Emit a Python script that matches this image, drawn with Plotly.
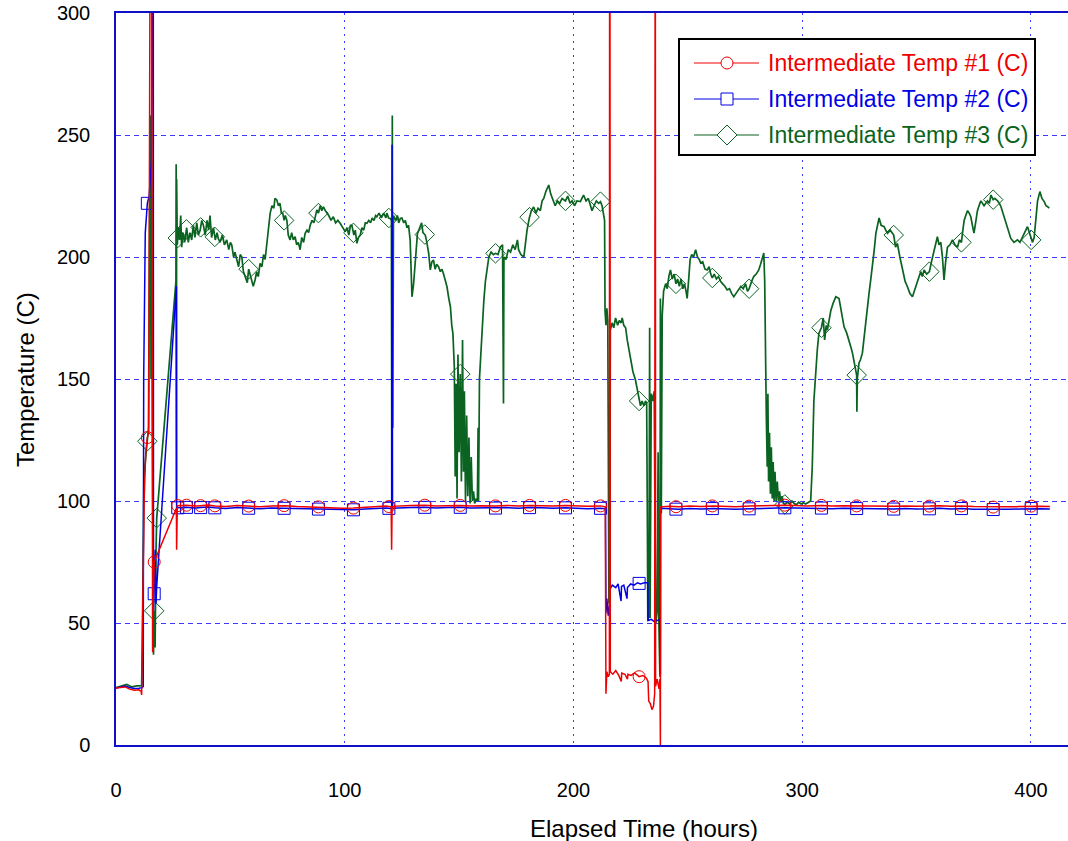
import numpy as np
import plotly.graph_objects as go

# ---------------------------------------------------------------- data
# (elapsed hours, temperature C)
red_series = [
    (0, 23.4), (2, 23.6), (4, 23.8), (6, 22.9), (8, 22.4), (10, 22.6), (11.0, 22.0), (11.2, 20.5),
    (11.4, 40), (11.8, 75), (12.3, 100), (13.0, 120), (13.7, 126), (14.3, 128), (14.9, 330), (15.6, 330),
    (16.0, 38), (16.3, 60), (16.7, 75), (17.8, 77.5), (26.4, 97), (26.5, 80), (26.6, 97.5), (26.8, 98.1),
    (30.6, 98.3), (35, 97.9), (37, 98.1), (40, 98.4), (43.3, 98.0), (48, 97.7), (53, 98.2), (58.6, 97.9),
    (63, 97.6), (68, 98.0), (74, 98.1), (79, 97.7), (84, 97.5), (89, 97.6), (94, 97.2), (99, 97.0),
    (104, 97.1), (109, 97.4), (114, 97.8), (118, 97.9), (120.3, 97.6), (120.5, 80), (120.7, 97.8),
    (124, 98.0), (129, 98.2), (135, 98.3), (140, 98.0), (145, 98.1), (150.5, 98.2), (155, 97.9),
    (160, 98.1), (166, 98.0), (171, 98.2), (176, 97.9), (181, 98.2), (186, 98.1), (191, 98.0),
    (196.5, 98.2), (201, 98.0), (206, 97.8), (211.8, 98.0), (213.9, 97.6),
    (214.2, 21), (214.6, 30), (215.2, 28), (215.7, 29), (215.8, 330), (215.95, 330), (216.1, 30),
    (217.2, 29), (218.5, 30.5), (219.8, 28.5), (220.9, 26), (221.1, 29.5), (222.5, 29), (223.6, 27),
    (223.8, 29), (225.2, 28.5), (226.7, 29.5), (228.7, 28), (230.3, 28.5), (231.8, 27.5), (232.6, 26),
    (232.9, 18), (233.6, 17), (234.3, 14.5), (235.0, 16), (235.5, 21), (235.7, 330), (235.8, 330),
    (235.9, 24), (236.6, 27), (237.4, 23), (237.8, 27), (238.0, 0), (238.1, 97.6),
    (242, 97.8), (246, 97.6), (251, 97.9), (256, 97.7), (261, 98.0), (266, 97.8), (271, 97.6),
    (277, 97.9), (282, 98.1), (287, 98.2), (292.5, 98.3), (297, 98.2), (302, 98.0), (308.4, 98.2),
    (313, 97.9), (318, 98.1), (323.8, 98.0), (329, 97.7), (334, 97.9), (340, 97.8), (345, 98.0),
    (350, 97.8), (355.6, 97.9), (360, 98.1), (365, 97.8), (369.6, 98.0), (375, 97.7), (380, 97.6),
    (383.5, 97.5), (390, 97.6), (395, 97.7), (400.1, 97.9), (404, 97.8), (408.3, 97.7),
]

blue_series = [
    (0, 23.4), (2, 23.7), (4, 24.2), (6, 23.6), (8, 23.2), (10, 23.3), (11.5, 23.5), (11.9, 24),
    (12.1, 150), (12.8, 210), (13.7, 222), (14.5, 225), (15.5, 240), (15.9, 330), (16.3, 330),
    (16.4, 55), (16.7, 62), (17.2, 80), (17.5, 58), (17.8, 65), (26.4, 188), (26.5, 97), (26.8, 97.2),
    (30.6, 97.4), (35, 97.1), (37, 97.3), (40, 97.5), (43.3, 97.2), (48, 96.9), (53, 97.3), (58.6, 97.0),
    (63, 96.8), (68, 97.1), (74, 97.0), (79, 96.8), (84, 96.6), (89, 96.7), (94, 96.4), (99, 96.3),
    (104, 96.4), (109, 96.7), (114, 97.0), (118, 97.1), (120.5, 96.9), (120.7, 246), (120.9, 97.0),
    (124, 97.2), (129, 97.3), (135, 97.4), (140, 97.1), (145, 97.3), (150.5, 97.4), (155, 97.1),
    (160, 97.2), (166, 97.1), (171, 97.3), (176, 97.0), (181, 97.3), (186, 97.2), (191, 97.0),
    (196.5, 97.2), (201, 97.0), (206, 96.8), (211.8, 97.0), (214.0, 96.8),
    (214.2, 54), (214.6, 60), (215.2, 53), (215.8, 58), (216.0, 64), (217.0, 65.5), (218.5, 64.5),
    (219.5, 66), (220.8, 59), (221.0, 65), (222.0, 65.5), (223.4, 60), (223.6, 64.5), (225.0, 66),
    (226.5, 65.5), (228.0, 66.5), (229.3, 66), (231.0, 66.5), (232.5, 66.5), (232.6, 51),
    (234.0, 51.5), (235.5, 50.5), (236.5, 51), (237.8, 51.5), (238.0, 29), (238.1, 97.0),
    (242, 96.8), (246, 96.6), (251, 96.9), (256, 96.7), (261, 96.9), (266, 96.8), (271, 96.6),
    (277, 96.8), (282, 97.0), (287, 97.1), (292.5, 97.2), (297, 97.1), (302, 97.0), (308.4, 97.1),
    (313, 96.8), (318, 97.0), (323.8, 96.9), (329, 96.7), (334, 96.8), (340, 96.7), (345, 96.9),
    (350, 96.7), (355.6, 96.8), (360, 97.0), (365, 96.7), (369.6, 96.9), (375, 96.6), (380, 96.5),
    (383.5, 96.5), (390, 96.6), (395, 96.7), (400.1, 96.9), (404, 96.8), (408.3, 96.7),
]

green_series = [
    (0, 23.5), (2, 24.0), (4.7, 24.8), (7, 23.8), (9, 24.2), (11.2, 24.3),
    (11.5, 40), (12.2, 110), (13.0, 118), (13.7, 124.5), (14.2, 130), (14.6, 200),
    (15.0, 258), (15.3, 150), (15.6, 240), (16.0, 120), (16.4, 37), (16.7, 55),
    (17.1, 40), (17.5, 80), (17.8, 93), (26.2, 190), (26.3, 238), (26.4, 100),
    (26.5, 232), (26.6, 110), (26.8, 205), (27.3, 212), (27.8, 207), (28.3, 217),
    (28.7, 204), (29.3, 210), (30.0, 206), (30.9, 212), (31.6, 206), (32.3, 210),
    (33.1, 207), (33.8, 213), (34.5, 208), (35.3, 214), (36.0, 209), (36.8, 211),
    (37.5, 215), (38.2, 213), (39.0, 209), (39.8, 215), (40.5, 211), (41.1, 217),
    (41.8, 208), (42.6, 212), (43.4, 207), (44.2, 210), (44.7, 207.6), (45.5, 206),
    (46.5, 209), (47.4, 205), (48.4, 207), (49.3, 203), (50.0, 206), (50.6, 205),
    (51.4, 200), (52.0, 202), (52.8, 198.8), (53.6, 196), (54.3, 201), (55.0, 200),
    (55.7, 194), (56.5, 192), (57.4, 189.5), (58.0, 195), (58.6, 193), (59.3, 191),
    (60.0, 188), (60.8, 190.6), (61.5, 194), (62.2, 192), (63.0, 197.4), (63.8, 196),
    (64.5, 201), (65.2, 199), (65.9, 205.6), (66.5, 210), (67.0, 215), (67.4, 218),
    (68.2, 221), (69.0, 220), (69.5, 224), (70.3, 223.4), (71.0, 221), (71.7, 222),
    (72.3, 218), (72.9, 218), (73.5, 215), (74.0, 217), (74.7, 215), (75.3, 209),
    (76.1, 207), (76.8, 210), (77.5, 207), (78.3, 208.3), (79.0, 205), (79.7, 206),
    (80.5, 203), (81.2, 208), (82.0, 206), (82.7, 209.7), (83.5, 211), (84.2, 210),
    (84.9, 213), (85.7, 215), (86.5, 214), (87.2, 217), (87.8, 219.3), (88.5, 218),
    (89.3, 221), (90.0, 219), (90.7, 220.6), (91.5, 219), (92.2, 218), (93.0, 217),
    (94.0, 215), (95.0, 216.5), (96.0, 214), (97.0, 215), (98.0, 213.8), (99.0, 212),
    (100.2, 210.4), (101.0, 212), (101.8, 209), (102.5, 213), (103.1, 213), (104.0, 209),
    (104.6, 211), (105.3, 205.6), (106.0, 208), (106.8, 209), (107.5, 212), (108.3, 211),
    (109.0, 214), (109.7, 213.8), (110.5, 215), (111.3, 214), (112.0, 216), (112.8, 215),
    (113.5, 217), (114.0, 216.5), (115.0, 218), (116.0, 216), (117.0, 218), (118.0, 216),
    (118.4, 218), (119.2, 216), (119.9, 215.8), (120.4, 215), (120.6, 100), (120.8, 258),
    (121.0, 130), (121.3, 217), (122.3, 215), (123.0, 217), (123.6, 214), (124.3, 215.8),
    (125.0, 216), (125.8, 214), (126.5, 215), (127.2, 212), (127.9, 213), (128.6, 207),
    (129.0, 195), (129.4, 183.7), (130.1, 189), (130.9, 200), (131.8, 209.7), (132.4, 211),
    (133.0, 212.4), (133.6, 214), (134.2, 210), (135.2, 209), (135.9, 206), (136.7, 201.5),
    (137.4, 194.7), (138.1, 198), (138.8, 198.8), (139.5, 195), (140.2, 197), (141.0, 196),
    (141.8, 194), (142.5, 195), (143.2, 193), (144.0, 190), (144.7, 187.8), (145.5, 183),
    (146.2, 179.6), (146.8, 172), (147.3, 168.6), (147.9, 155), (148.3, 110), (148.7, 148),
    (149.1, 101), (149.5, 160), (150.0, 120), (150.5, 152), (151.0, 108), (151.5, 166),
    (151.9, 112), (152.3, 145), (152.8, 100), (153.3, 135), (153.8, 102), (154.3, 126),
    (154.8, 99), (155.3, 118), (155.8, 100), (156.3, 104), (156.8, 99), (157.5, 101),
    (158.0, 100), (158.3, 130), (158.5, 100), (158.9, 150), (159.3, 158), (160.2, 172),
    (160.8, 182), (161.5, 190), (162.3, 196), (163.0, 200), (164.0, 202), (165.0, 201),
    (165.9, 201.5), (167.0, 201), (168.0, 204), (169.0, 205), (169.4, 140), (169.6, 200),
    (170.5, 199), (171.5, 203), (172.5, 202), (173.5, 205), (174.5, 203), (175.5, 207),
    (176.0, 203), (177.0, 201), (178.3, 200), (179.0, 207), (179.7, 211), (180.7, 216),
    (181.6, 219), (182.6, 220.5), (183.6, 218), (184.5, 220), (185.5, 219), (186.3, 223),
    (187.0, 224), (188.0, 227), (189.2, 229.5), (190.0, 226), (190.6, 224.5), (191.4, 222),
    (192.0, 221), (193.0, 223), (194.0, 222), (195.0, 224), (196.5, 223), (197.5, 225),
    (198.5, 222), (199.4, 223), (200.5, 221), (201.5, 223), (203.0, 222.7), (204.4, 225.4),
    (205.5, 223), (206.5, 224), (207.3, 221), (208.1, 219), (209.0, 221), (210.0, 223),
    (211.0, 222), (211.8, 222.7), (212.5, 221), (213.2, 216.5), (213.6, 215), (213.8, 178),
    (214.2, 172), (214.6, 179), (215.0, 174), (215.5, 58), (215.9, 62), (216.1, 170),
    (216.9, 173), (217.6, 171), (218.4, 175), (219.3, 172), (220.0, 174), (220.8, 173),
    (221.3, 175), (222.0, 172), (222.8, 171), (223.5, 166), (224.2, 162), (225.0, 158),
    (226.0, 153), (227.1, 149.6), (228.0, 145), (228.7, 141), (229.3, 139), (230.0, 141),
    (230.8, 139), (231.5, 141), (232.0, 140), (232.3, 93), (232.5, 51), (233.0, 53),
    (233.3, 171), (233.5, 52), (234.0, 144), (234.7, 141), (235.3, 145), (235.6, 100),
    (236.0, 50), (236.6, 55), (237.0, 120), (237.3, 52), (237.8, 28), (238.0, 183),
    (238.4, 95), (238.8, 176), (239.4, 186), (240.3, 189), (241.0, 187), (241.7, 192),
    (242.4, 194.7), (243.2, 191), (244.0, 193), (244.8, 189), (245.5, 191), (246.3, 188),
    (247.0, 191), (247.8, 187), (248.5, 189), (249.2, 186), (249.7, 183), (250.3, 190),
    (251.0, 199), (251.7, 201), (252.5, 200), (253.4, 203), (254.2, 200), (255.0, 199),
    (255.6, 197.5), (256.5, 198), (257.5, 195), (258.5, 194.7), (259.3, 196), (260.0, 193),
    (260.7, 191.4), (261.5, 193), (262.5, 191), (263.4, 192), (264.3, 190), (265.2, 189),
    (266.2, 188), (267.2, 186.5), (268.2, 187), (269.2, 185), (270.1, 183.7), (271.0, 185),
    (272.2, 186.5), (273.2, 188), (274.2, 187), (275.2, 189), (276.1, 186), (276.8, 187),
    (277.9, 190), (278.8, 192), (279.9, 193), (281.0, 194.7), (281.8, 197), (282.5, 200),
    (283.2, 201.6), (283.6, 190), (283.9, 159), (284.3, 135), (284.7, 114), (285.0, 144),
    (285.3, 108), (285.7, 128), (286.1, 103), (286.5, 122), (286.9, 101), (287.3, 116),
    (287.7, 100), (288.1, 112), (288.6, 100), (289.1, 108), (289.6, 100), (290.1, 104),
    (290.6, 99.5), (291.2, 102), (291.8, 99), (292.4, 98.6), (293.5, 99.5), (294.5, 98.8),
    (295.5, 100), (296.5, 99), (297.5, 98.5), (298.5, 99.5), (299.5, 98.8), (300.5, 99.3),
    (301.5, 98.8), (302.5, 99.5), (303.7, 100), (304.4, 114), (305.1, 141), (306.6, 162),
    (307.3, 168.8), (308.4, 171), (309.2, 175), (309.8, 166), (310.5, 172), (311.0, 170),
    (312.5, 178), (313.5, 181), (314.7, 183.7), (316.1, 183), (317.2, 177), (318.3, 171.4),
    (319.4, 169), (320.5, 166), (321.3, 163), (322.0, 160.5), (322.6, 157.8), (323.3, 155),
    (323.8, 151.6), (323.9, 136.6), (324.1, 150), (324.8, 156.5), (325.5, 158), (326.3, 160.6),
    (327.0, 167), (327.7, 174), (328.5, 180), (329.2, 185), (330.0, 191), (330.7, 196),
    (331.5, 203), (332.2, 209.7), (333.0, 214), (333.6, 216), (334.5, 213), (335.8, 212.4),
    (336.5, 211), (337.3, 209.7), (338.5, 211), (340.0, 209), (340.8, 204), (341.6, 205.6),
    (342.7, 200), (343.8, 194.7), (345.0, 190), (346.0, 187.8), (347.1, 185), (348.2, 183.7),
    (349.3, 187), (350.4, 190), (351.1, 192), (351.8, 194), (352.5, 192), (353.3, 194.7),
    (354.4, 193), (355.6, 194), (356.5, 198), (357.6, 203), (358.3, 206), (359.1, 208.3),
    (359.8, 205), (360.6, 206), (361.3, 200), (362.0, 190.6), (362.7, 198), (363.5, 204),
    (364.6, 205), (365.7, 207), (366.8, 205), (367.9, 204), (368.7, 207), (369.6, 206),
    (370.1, 210), (370.8, 215), (371.5, 217), (372.3, 219), (373.0, 218), (373.7, 216.5),
    (374.4, 213), (375.1, 209.8), (375.8, 214), (376.6, 219), (377.3, 221), (378.1, 223),
    (379.5, 221), (381.0, 223), (381.8, 222), (382.5, 225.4), (383.5, 223.5), (384.2, 224),
    (385.4, 223), (386.2, 222), (386.9, 220.6), (388.0, 217), (389.0, 213.8), (390.1, 211),
    (391.2, 207.6), (392.6, 206), (394.1, 207), (395.2, 206), (396.3, 208.3), (397.4, 210),
    (398.5, 212.4), (399.3, 210), (400.1, 207), (400.7, 206), (401.4, 208), (402.2, 215),
    (402.9, 223), (403.9, 226.8), (404.8, 224), (405.8, 222.7), (406.6, 221), (407.3, 220.6),
    (408.0, 220),
]

# hours at which the logger plotted a symbol on each curve
marker_times = [13.7, 16.7, 27.0, 30.8, 37.0, 43.2, 58.0, 73.5, 88.5, 103.8, 119.3, 135.0,
                150.5, 165.9, 180.8, 196.5, 211.8, 228.7, 244.8, 260.7, 276.8, 292.4, 308.4,
                323.8, 340.0, 355.6, 369.6, 383.5, 400.1]
green_extra_marker_times = [17.8]

series_names = ["Intermediate Temp #1 (C)", "Intermediate Temp #2 (C)", "Intermediate Temp #3 (C)"]
x_ticks = [0, 100, 200, 300, 400]
y_ticks = [0, 50, 100, 150, 200, 250, 300]

# ---------------------------------------------------------------- style
RED = "#ee0000"
BLUE = "#0000e6"
GREEN = "#0a6320"
AXIS_BLUE = "#1010c8"
GRID_BLUE = "#3a3aff"
FONT = "Liberation Sans, Arial, sans-serif"

W, H = 1068, 841
L, R, T, B = 116, 0, 13, 96
PW, PH = W - L - R, H - T - B


def px(xp):
    return (xp - L) / PW


def py(yp):
    return (T + PH - yp) / PH


def unzip(pts):
    t = np.array([p[0] for p in pts], dtype=float)
    v = np.array([p[1] for p in pts], dtype=float)
    return t, v


fig = go.Figure()

curves = [
    (green_series, GREEN, 1.7, "diamond-open", 15, marker_times + green_extra_marker_times),
    (blue_series, BLUE, 1.5, "square-open", 12, marker_times),
    (red_series, RED, 1.5, "circle-open", 12, marker_times),
]

for pts, col, lw, sym, size, mt in curves:
    t, v = unzip(pts)
    fig.add_trace(go.Scatter(x=t, y=v, mode="lines", line=dict(color=col, width=lw),
                             showlegend=False, hoverinfo="skip"))
    mt = np.array(sorted(mt))
    fig.add_trace(go.Scatter(x=mt, y=np.interp(mt, t, v), mode="markers",
                             marker=dict(symbol=sym, size=size, color=col, line=dict(width=1, color=col)),
                             showlegend=False, cliponaxis=True))

fig.update_layout(
    width=W, height=H,
    margin=dict(l=L, r=R, t=T, b=B),
    paper_bgcolor="white", plot_bgcolor="white",
    font=dict(family=FONT, size=20, color="black"),
    showlegend=False,
)

fig.update_xaxes(
    range=[0, 416.2], tickvals=x_ticks, ticks="outside", ticklen=26, tickcolor="rgba(0,0,0,0)",
    tickfont=dict(size=20), showline=True, linecolor=AXIS_BLUE, linewidth=1.5, mirror=True,
    showgrid=True, gridcolor=GRID_BLUE, gridwidth=1, griddash="2px,5px", zeroline=False,
)
fig.update_yaxes(
    range=[0, 300], tickvals=y_ticks, ticks="outside", ticklen=20, tickcolor="rgba(0,0,0,0)",
    tickfont=dict(size=20), showline=True, linecolor=AXIS_BLUE, linewidth=1.5,
    showgrid=True, gridcolor=GRID_BLUE, gridwidth=1, griddash="5px,4px", zeroline=False,
)

# axis titles
annotations = [
    dict(text="Elapsed Time (hours)", x=px(644), y=py(828), xref="paper", yref="paper",
         showarrow=False, font=dict(size=24), xanchor="center", yanchor="middle"),
    dict(text="Temperature (C)", x=px(25), y=py(380), xref="paper", yref="paper",
         showarrow=False, font=dict(size=24), textangle=-90, xanchor="center", yanchor="middle"),
]

# legend box
shapes = [dict(type="rect", xref="paper", yref="paper", x0=px(679), x1=px(1035), y0=py(155), y1=py(39),
               line=dict(color="black", width=2), fillcolor="white", layer="above")]

rows = [63, 99, 135]
cols = [RED, BLUE, GREEN]
mx = 727
for i, (yr, col, name) in enumerate(zip(rows, cols, series_names)):
    shapes.append(dict(type="line", xref="paper", yref="paper", x0=px(694), x1=px(759),
                       y0=py(yr), y1=py(yr), line=dict(color=col, width=1.2), layer="above"))
    if i == 0:
        shapes.append(dict(type="circle", xref="paper", yref="paper", x0=px(mx - 6), x1=px(mx + 6),
                           y0=py(yr + 6), y1=py(yr - 6), line=dict(color=col, width=1),
                           fillcolor="white", layer="above"))
    elif i == 1:
        shapes.append(dict(type="rect", xref="paper", yref="paper", x0=px(mx - 6), x1=px(mx + 6),
                           y0=py(yr + 6), y1=py(yr - 6), line=dict(color=col, width=1),
                           fillcolor="white", layer="above"))
    else:
        d = 10
        path = "M{},{} L{},{} L{},{} L{},{} Z".format(px(mx - d), py(yr), px(mx), py(yr - d),
                                                    px(mx + d), py(yr), px(mx), py(yr + d))
        shapes.append(dict(type="path", xref="paper", yref="paper", path=path,
                           line=dict(color=col, width=1), fillcolor="white", layer="above"))
    annotations.append(dict(text=name, x=px(766), y=py(yr), xref="paper", yref="paper",
                            showarrow=False, xanchor="left", yanchor="middle",
                            font=dict(size=23, color=col)))

fig.update_layout(shapes=shapes, annotations=annotations)

fig.write_html("out.html")
